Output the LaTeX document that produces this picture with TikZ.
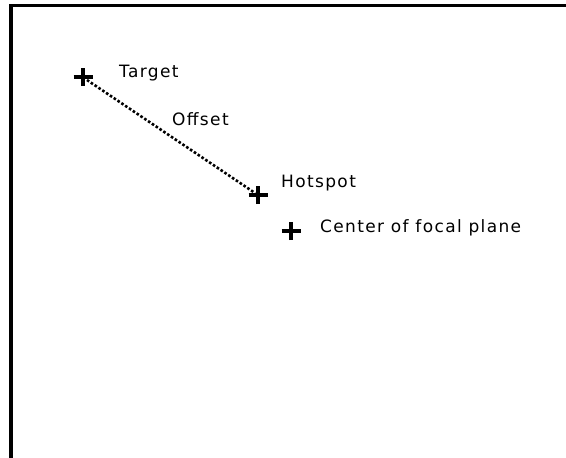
\documentclass[tikz,border=0pt]{standalone}
\usepackage{fontspec}
\setmainfont{DejaVu Sans}[LetterSpace=8]
\begin{document}
\begin{tikzpicture}[x=1pt,y=-1pt,
  crossmark/.style={line width=3.4pt},
  lbl/.style={anchor=base west,inner sep=0pt,font=\fontsize{17}{19}\selectfont},
  frameline/.style={line width=3.4pt}]
\useasboundingbox (0,0) rectangle (566,458);
\fill[white] (0,0) rectangle (566,458);
\draw[frameline] (11,458) -- (11,5.5) -- (566,5.5);
\coordinate (target) at (83,77);
\coordinate (hotspot) at (258,195);
\coordinate (center) at (291,231);
\foreach \c in {target,hotspot,center}{
  \draw[crossmark] ([xshift=-9.5pt]\c) -- ([xshift=9.5pt]\c);
  \draw[crossmark] ([yshift=-9pt]\c) -- ([yshift=9pt]\c);
}
\draw[line width=2.6pt,dotted] ([shift={(4,3)}]target) -- ([shift={(-3,-2)}]hotspot);
\node[lbl] (tl) at (119,77) {Target};
\node[lbl] (ol) at (172,125) {Offset};
\node[lbl] (hl) at (281,187) {Hotspot};
\node[lbl] (cl) at (320,232) {Center of focal plane};
\end{tikzpicture}
\end{document}
